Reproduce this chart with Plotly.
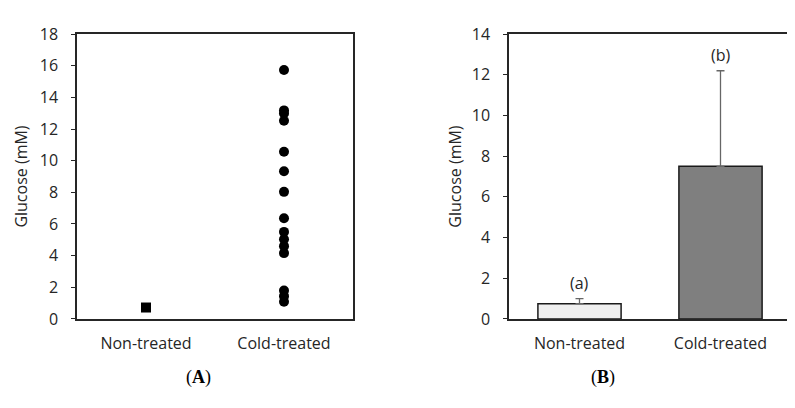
import plotly.graph_objects as go

# ---- data ----
categories = ["Non-treated", "Cold-treated"]
non_treated_values = [0.72]
cold_treated_values = [15.73, 13.18, 12.98, 12.52, 10.57, 9.33, 8.03, 6.36,
                       5.50, 5.04, 4.60, 4.16, 1.80, 1.44, 1.08]
bar_means = [0.75, 7.5]
bar_sd = [0.25, 4.7]
bar_letters = ["(a)", "(b)"]
letter_y = [1.77, 12.97]
left_ticks = [0, 2, 4, 6, 8, 10, 12, 14, 16, 18]
right_ticks = [0, 2, 4, 6, 8, 10, 12, 14]

FONT = "Open Sans"
TXT = "#262626"
AX = "#262626"
W, H = 795, 408

def px(x):
    return x / W

def py(y):
    return 1 - y / H

fig = go.Figure()

# Panel A: individual points
fig.add_trace(go.Scatter(
    x=[categories[0]] * len(non_treated_values), y=non_treated_values,
    mode="markers", marker=dict(symbol="square", size=10, color="black"),
    xaxis="x", yaxis="y", showlegend=False))
fig.add_trace(go.Scatter(
    x=[categories[1]] * len(cold_treated_values), y=cold_treated_values,
    mode="markers", marker=dict(symbol="circle", size=10, color="black"),
    xaxis="x", yaxis="y", showlegend=False))

# Panel B: bars with one-sided SD error bars
fig.add_trace(go.Bar(
    x=categories, y=bar_means, width=0.59,
    marker=dict(color=["#efefef", "#7f7f7f"], line=dict(color="#1a1a1a", width=1.5)),
    error_y=dict(type="data", symmetric=False, array=bar_sd, arrayminus=[0, 0],
                 color="#666666", thickness=1.3, width=4),
    xaxis="x2", yaxis="y2", showlegend=False))

common_y = dict(showline=True, linecolor=AX, linewidth=1.5, mirror=True,
                ticks="outside", ticklen=4, tickcolor=AX, tickwidth=1.2,
                ticklabelstandoff=10,
                showgrid=False, zeroline=False,
                tickfont=dict(family=FONT, size=16, color=TXT))
common_x = dict(showline=True, linecolor=AX, linewidth=1.5, mirror=True,
                ticks="outside", ticklen=9, tickcolor="rgba(0,0,0,0)",
                showgrid=False, zeroline=False, range=[-0.5, 1.5],
                categoryorder="array", categoryarray=categories,
                tickfont=dict(family=FONT, size=16, color=TXT))
title_font = dict(family=FONT, size=16, color=TXT)

fig.update_layout(
    width=W, height=H, margin=dict(l=0, r=0, t=0, b=0),
    paper_bgcolor="white", plot_bgcolor="white",
    xaxis=dict(domain=[px(69), px(345)], anchor="y", **common_x),
    yaxis=dict(domain=[py(317), py(16)], anchor="x", range=[0, 18],
               tickvals=left_ticks,
               title=dict(text="Glucose (mM)", font=title_font, standoff=8),
               **common_y),
    xaxis2=dict(domain=[px(501), px(783)], anchor="y2", **common_x),
    yaxis2=dict(domain=[py(317), py(16)], anchor="x2", range=[0, 14],
                tickvals=right_ticks,
                title=dict(text="Glucose (mM)", font=title_font, standoff=6),
                **common_y),
)

for cat, txt, yy in zip(categories, bar_letters, letter_y):
    fig.add_annotation(x=cat, y=yy, xref="x2", yref="y2", text=txt, showarrow=False,
                       font=dict(family=FONT, size=16, color=TXT))

for xp, lab in [(176, "A"), (609, "B")]:
    fig.add_annotation(x=px(xp), y=py(392), xref="paper", yref="paper",
                       text=f"(<b>{lab}</b>)", showarrow=False,
                       font=dict(family="Liberation Serif", size=18, color="black"))

fig.write_html("out.html")
